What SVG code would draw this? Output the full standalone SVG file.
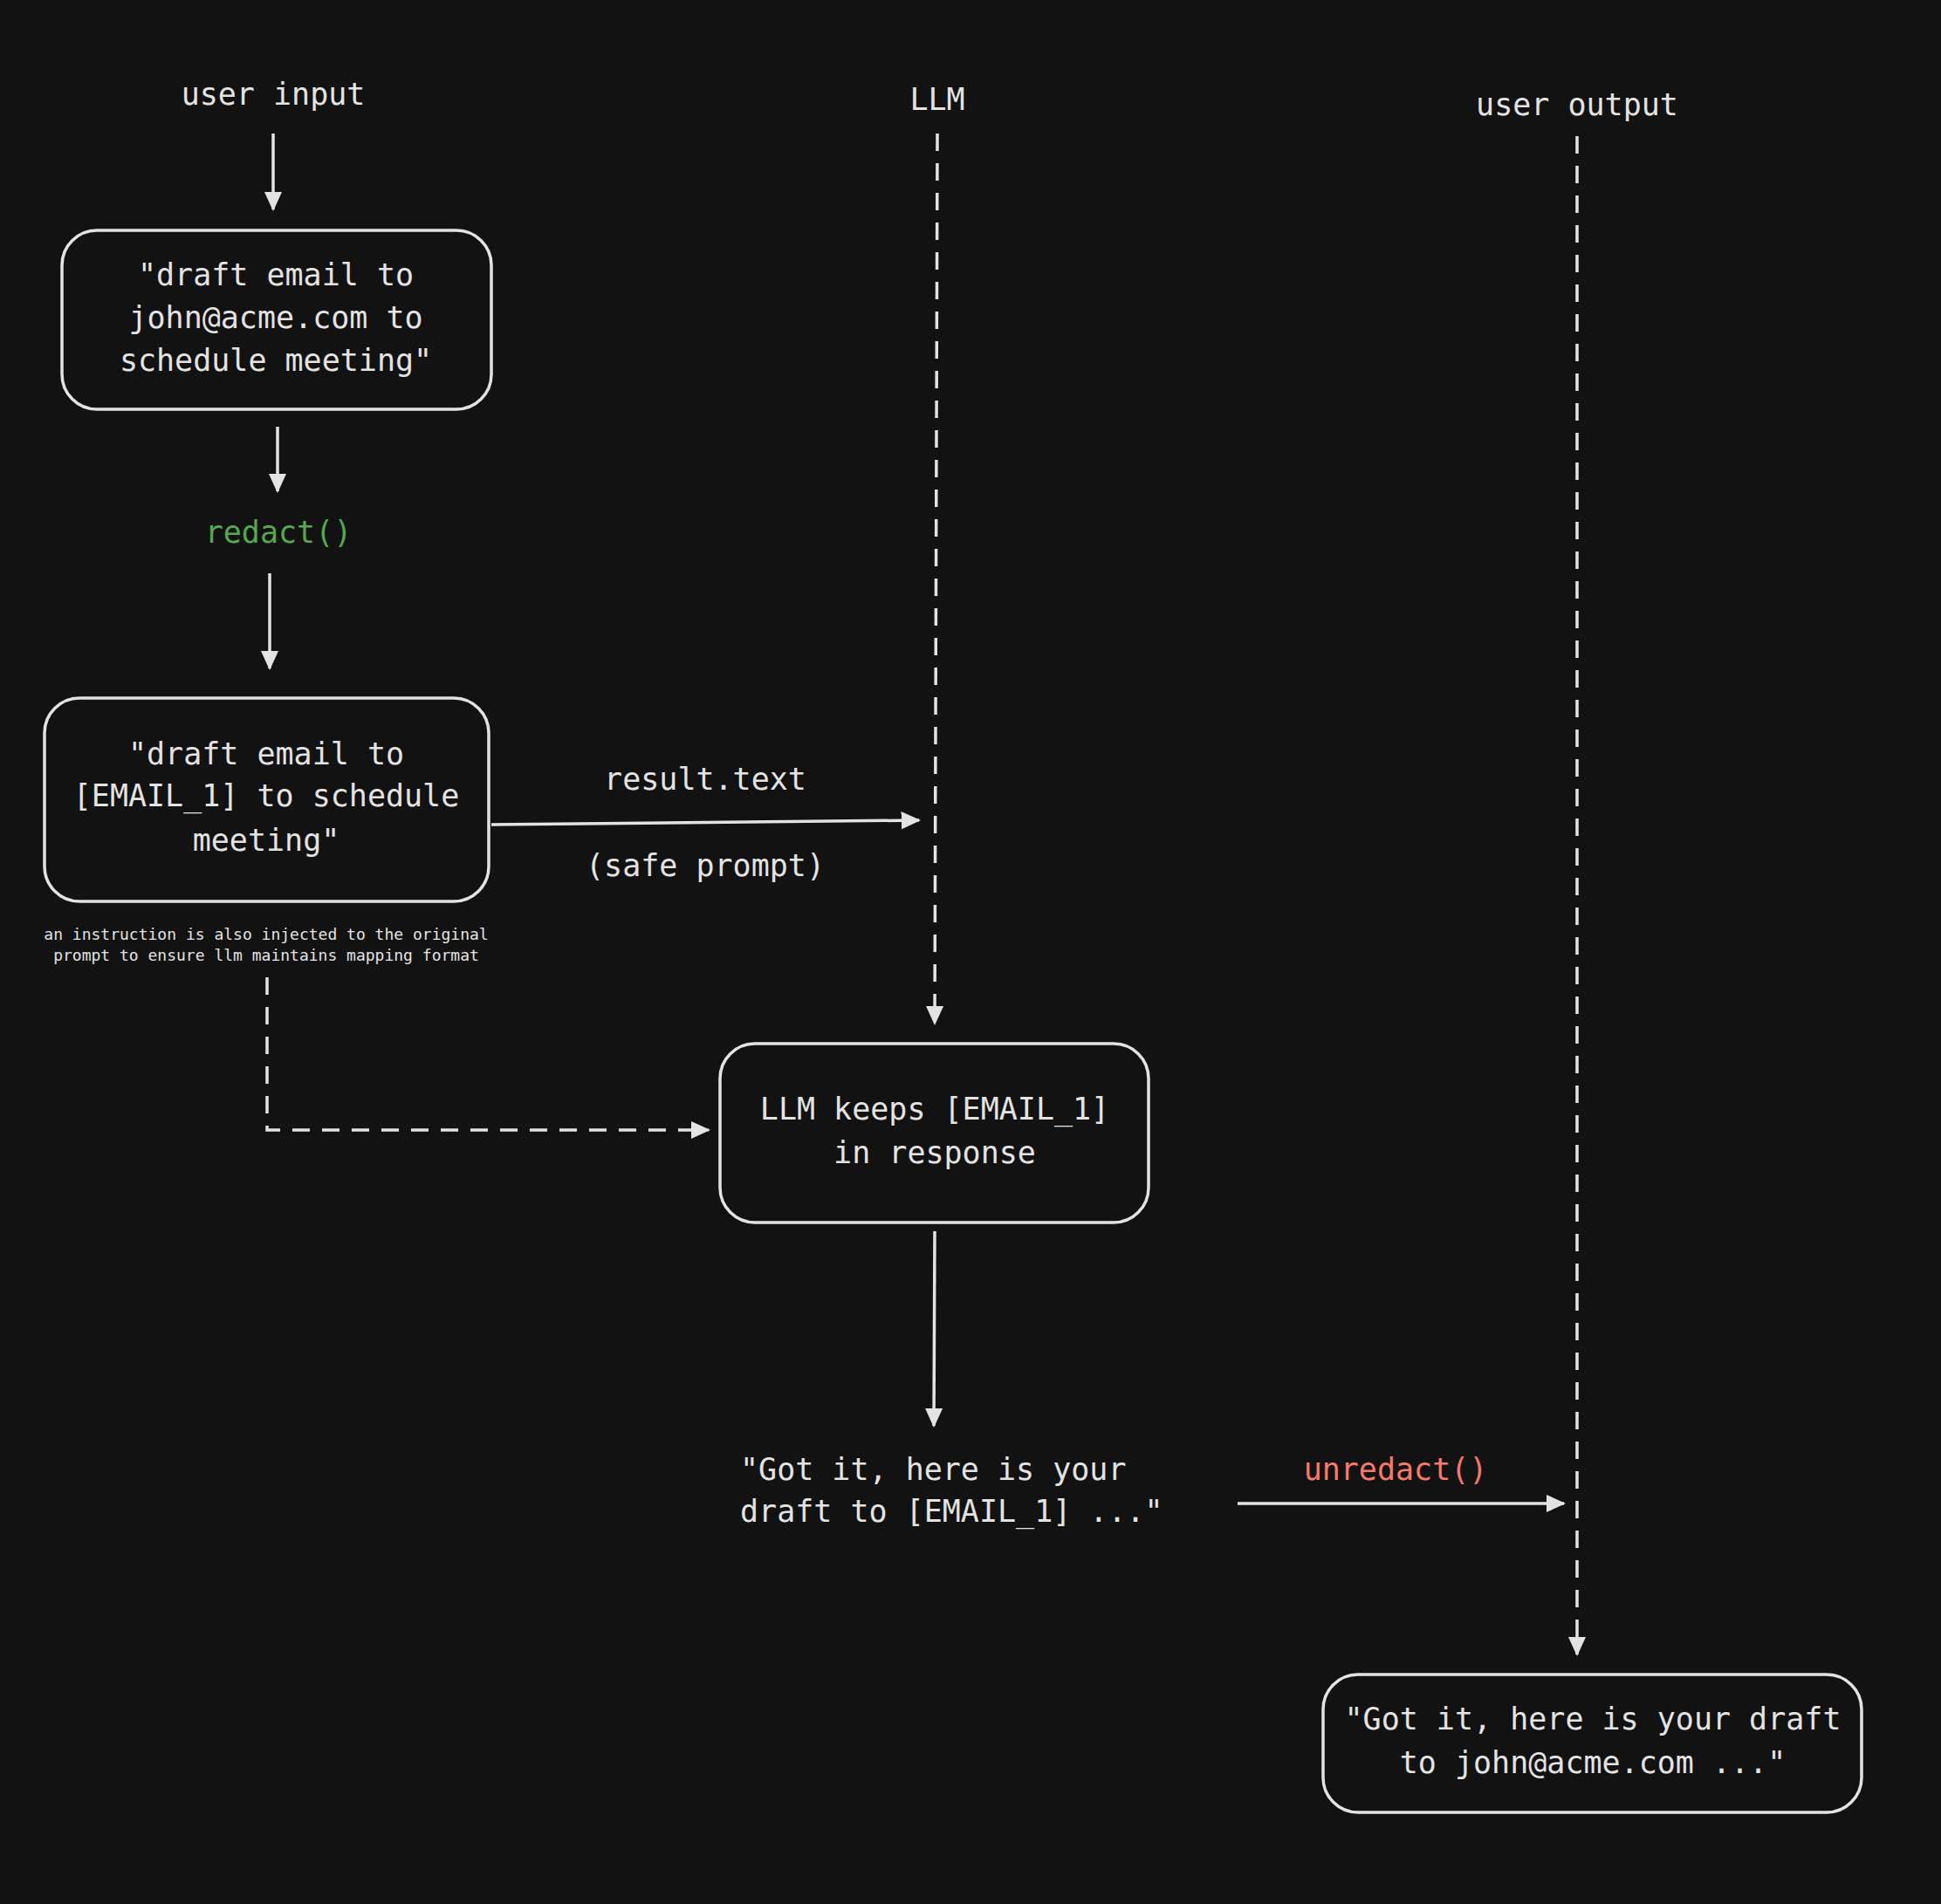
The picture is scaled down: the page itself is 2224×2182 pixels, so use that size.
<svg xmlns="http://www.w3.org/2000/svg" width="2224" height="2182" viewBox="0 0 2224 2182">
<style>
text{font-family:"DejaVu Sans Mono","Liberation Mono",monospace;font-size:35px;fill:#e3e3e3;text-anchor:middle}
.box{fill:none;stroke:#e3e3e3;stroke-width:3.5}
.ln{fill:none;stroke:#e3e3e3;stroke-width:3.5}
.d{stroke-dasharray:20 14}
.small{font-size:18px}
</style>
<defs>
<marker id="a" viewBox="0 0 12 12" refX="10" refY="6" markerWidth="7" markerHeight="7" orient="auto" markerUnits="strokeWidth">
<path d="M0,1 L11,6 L0,11 Z" fill="#e3e3e3"/>
</marker>
</defs>
<rect width="2224" height="2182" fill="#121212"/>
<g id="labels">
<text x="313" y="120">user input</text>
<text x="1074" y="126">LLM</text>
<text x="1807" y="132">user output</text>
</g>
<g id="box1">
<rect class="box" x="71" y="264" width="492" height="205" rx="40"/>
<text x="316" y="327">"draft email to</text>
<text x="316" y="376">john@acme.com to</text>
<text x="316" y="425">schedule meeting"</text>
</g>
<g id="redact"><text x="319" y="622" style="fill:#56a84f">redact()</text></g>
<g id="box2">
<rect class="box" x="51" y="800" width="509" height="233" rx="40"/>
<text x="305" y="876">"draft email to</text>
<text x="305" y="924">[EMAIL_1] to schedule</text>
<text x="305" y="975">meeting"</text>
<text class="small" x="305" y="1077">an instruction is also injected to the original</text>
<text class="small" x="305" y="1101">prompt to ensure llm maintains mapping format</text>
</g>
<g id="edge-labels">
<text x="808" y="905">result.text</text>
<text x="808" y="1004">(safe prompt)</text>
<text x="1599" y="1696" style="fill:#f47a6a">unredact()</text>
</g>
<g id="box3">
<rect class="box" x="825" y="1196" width="491" height="205" rx="40"/>
<text x="1071" y="1283">LLM keeps [EMAIL_1]</text>
<text x="1071" y="1333">in response</text>
</g>
<g id="response">
<text x="848" y="1696" style="text-anchor:start">"Got it, here is your</text>
<text x="848" y="1744" style="text-anchor:start">draft to [EMAIL_1] ..."</text>
</g>
<g id="box4">
<rect class="box" x="1516" y="1919" width="617" height="158" rx="40"/>
<text x="1825" y="1982">"Got it, here is your draft</text>
<text x="1825" y="2032">to john@acme.com ..."</text>
</g>
<g id="connectors">
<path class="ln" d="M313,153 L313,240" marker-end="url(#a)"/>
<path class="ln" d="M318,489 L318,563" marker-end="url(#a)"/>
<path class="ln" d="M309,657 L309,766" marker-end="url(#a)"/>
<path class="ln" d="M563,945 L1053,940" marker-end="url(#a)"/>
<path class="ln d" d="M1074,153 L1071,1173" marker-end="url(#a)"/>
<path class="ln d" d="M306,1120 L306,1295 L812,1295" marker-end="url(#a)"/>
<path class="ln" d="M1071,1411 L1070,1634" marker-end="url(#a)"/>
<path class="ln" d="M1418,1723 L1792,1723" marker-end="url(#a)"/>
<path class="ln d" d="M1807,156 L1807,1896" marker-end="url(#a)"/>
</g>
</svg>
